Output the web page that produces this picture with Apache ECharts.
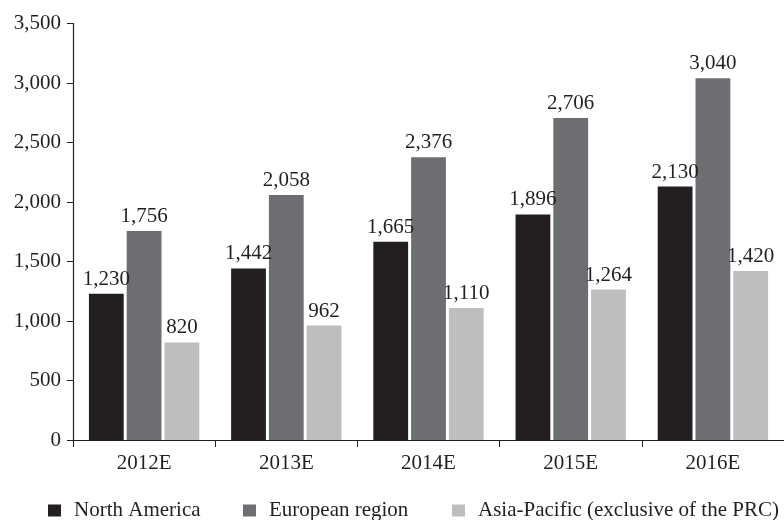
<!DOCTYPE html>
<html>
<head>
<meta charset="utf-8">
<script src="https://cdn.jsdelivr.net/npm/echarts@6/dist/echarts.min.js"></script>
<style>
html,body{margin:0;padding:0;background:#fff;}
#chart{width:784px;height:520px;}
</style>
</head>
<body>
<div id="chart"></div>
<script>
const years = ['2012E', '2013E', '2014E', '2015E', '2016E'];
const northAmerica = [1230, 1442, 1665, 1896, 2130];
const europe = [1756, 2058, 2376, 2706, 3040];
const asiaPacific = [820, 962, 1110, 1264, 1420];
const seriesNames = ['North America', 'European region', 'Asia-Pacific (exclusive of the PRC)'];
const colors = ['#231f20', '#6d6e71', '#bcbec0'];

const font = 'Liberation Serif, Times New Roman, serif';
const ink = '#231f20';
const fmt = v => v.toLocaleString('en-US');

const chart = echarts.init(document.getElementById('chart'));

function barSeries(name, data, color) {
  return {
    name, type: 'bar', data,
    itemStyle: { color },
    barGap: '8.6%',
    barCategoryGap: '22.4%',
    label: {
      show: true, position: 'top', distance: 4,
      color: ink, fontFamily: font, fontSize: 21,
      formatter: p => fmt(p.value)
    }
  };
}

// one legend block per series so each entry sits at its own x position
const legendLeft = [48, 243, 452];
const legends = seriesNames.map((name, i) => ({
  data: [name],
  left: legendLeft[i], top: 500, padding: 0,
  itemWidth: 13, itemHeight: 12, icon: 'rect',
  textStyle: { fontFamily: font, fontSize: 21, color: ink, padding: [0, 0, 0, 8] }
}));

chart.setOption({
  animation: false,
  textStyle: { fontFamily: font },
  grid: { left: 73, top: 23.5, width: 716, height: 416.5, containLabel: false },
  legend: legends,
  xAxis: {
    type: 'category', data: years,
    axisLine: { lineStyle: { color: ink, width: 1.2 } },
    axisTick: { show: true, length: 7, lineStyle: { color: ink } },
    axisLabel: { color: ink, fontFamily: font, fontSize: 21, margin: 13 }
  },
  yAxis: {
    type: 'value', min: 0, max: 3500, interval: 500,
    splitLine: { show: false },
    axisLine: { show: true, lineStyle: { color: ink, width: 1.2 } },
    axisTick: { show: true, length: 6, lineStyle: { color: ink } },
    axisLabel: { color: ink, fontFamily: font, fontSize: 21, margin: 12, padding: [5, 0, 0, 0], formatter: v => fmt(v) }
  },
  series: [
    barSeries(seriesNames[0], northAmerica, colors[0]),
    barSeries(seriesNames[1], europe, colors[1]),
    barSeries(seriesNames[2], asiaPacific, colors[2])
  ]
});
</script>
</body>
</html>
